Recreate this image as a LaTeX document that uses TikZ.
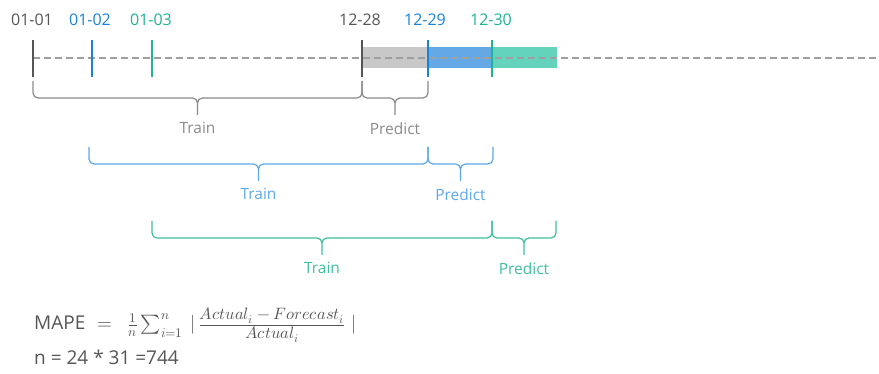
\documentclass[tikz,border=0pt]{standalone}
\usepackage{amsmath}
\usepackage{fontspec}
\usepackage{unicode-math}
\setmainfont{Open Sans}
\setmathfont{Latin Modern Math}
\usetikzlibrary{calc}

\definecolor{daygray}{HTML}{555555}
\definecolor{dayblue}{HTML}{1A82D8}
\definecolor{daygreen}{HTML}{1DB393}
\definecolor{bargray}{HTML}{C8C8C8}
\definecolor{barblue}{HTML}{64A9E6}
\definecolor{bargreen}{HTML}{64D3BC}
\definecolor{bracegray}{HTML}{8A8A8A}
\definecolor{braceblue}{HTML}{5DA8E8}
\definecolor{bracegreen}{HTML}{3FBE9E}

\tikzset{
  daylabel/.style={font=\fontsize{16}{18}\selectfont, inner sep=1pt},
  daytick/.style={line width=2pt},
  spanlabel/.style={font=\fontsize{15.5}{17}\selectfont, inner sep=2pt, anchor=north, yshift=-5pt},
  mapetext/.style={font=\fontsize{19}{21}\selectfont, anchor=base west, inner sep=0pt},
}

% curly brace below a span, from #2 to #3, label #4 named #5
\newcommand{\spanbrace}[5]{%
  \draw[#1, line width=1.2pt] let \p1=(#2), \p2=(#3), \n1={0.5*\x1+0.5*\x2} in
    (\p1) -- (\x1,\y1-12pt) to[out=-90,in=180] (\x1+5pt,\y1-17pt)
    -- (\n1-5pt,\y1-17pt) to[out=0,in=90] (\n1,\y1-22pt) -- (\n1,\y1-34pt)
       node[spanlabel, text=#1, name=#5] {#4}
    (\n1,\y1-22pt) to[out=90,in=180] (\n1+5pt,\y1-17pt)
    -- (\x2-5pt,\y1-17pt) to[out=0,in=-90] (\x2,\y1-12pt) -- (\p2);%
}
% fraction parts of the metric, a bit larger than script size
\newcommand{\mapepart}[1]{\hbox{\fontsize{16.5}{18}\selectfont$#1$}}

\begin{document}
\begin{tikzpicture}[x=1pt,y=-1pt]
\useasboundingbox (0,0) rectangle (879,374);

% timeline days
\coordinate (d0101) at (33,58);
\coordinate (d0102) at (92,58);
\coordinate (d0103) at (152,58);
\coordinate (d1228) at (362,58);
\coordinate (d1229) at (428,58);
\coordinate (d1230) at (492,58);
\coordinate (d1231) at (557,58);
\coordinate (lineend) at (879,58);

% predicted days
\fill[bargray]  ($(d1228)+(0,-11)$) rectangle ($(d1229)+(0,10)$);
\fill[barblue]  ($(d1229)+(0,-11)$) rectangle ($(d1230)+(0,10)$);
\fill[bargreen] ($(d1230)+(0,-11)$) rectangle ($(d1231)+(0,10)$);

\draw[gray!75, line width=1.3pt, dash pattern=on 7pt off 4pt] (d0101) -- (lineend);

\draw[daytick, daygray]  ($(d0101)+(0,-18)$) -- ($(d0101)+(0,19)$);
\draw[daytick, dayblue]  ($(d0102)+(0,-18)$) -- ($(d0102)+(0,19)$);
\draw[daytick, daygreen] ($(d0103)+(0,-18)$) -- ($(d0103)+(0,19)$);
\draw[daytick, daygray]  ($(d1228)+(0,-18)$) -- ($(d1228)+(0,19)$);
\draw[daytick, dayblue]  ($(d1229)+(0,-18)$) -- ($(d1229)+(0,19)$);
\draw[daytick, daygreen] ($(d1230)+(0,-18)$) -- ($(d1230)+(0,19)$);

\node[daylabel, text=daygray]  (l0101) at (32,20)  {01-01};
\node[daylabel, text=dayblue]  (l0102) at (90,20)  {01-02};
\node[daylabel, text=daygreen] (l0103) at (151,20) {01-03};
\node[daylabel, text=daygray]  (l1228) at (360,20) {12-28};
\node[daylabel, text=dayblue]  (l1229) at (425,20) {12-29};
\node[daylabel, text=daygreen] (l1230) at (491,20) {12-30};

% train / predict spans
\coordinate (g1) at (33,81);
\coordinate (g2) at (362,81);
\coordinate (g3) at (428,81);
\coordinate (b1) at (89,147);
\coordinate (b2) at (428,147);
\coordinate (b3) at (493,147);
\coordinate (e1) at (152,221);
\coordinate (e2) at (492,221);
\coordinate (e3) at (556,221);

\spanbrace{bracegray}{g1}{g2}{Train}{gtrain}
\spanbrace{bracegray}{g2}{g3}{Predict}{gpredict}
\spanbrace{braceblue}{b1}{b2}{Train}{btrain}
\spanbrace{braceblue}{b2}{b3}{Predict}{bpredict}
\spanbrace{bracegreen}{e1}{e2}{Train}{etrain}
\spanbrace{bracegreen}{e2}{e3}{Predict}{epredict}

% metric
\node[mapetext, text=daygray] (mape) at (34,330)
  {MAPE\hspace{12pt}$=\hspace{10pt}\frac{1}{n}\sum_{i=1}^{n}\hspace{4pt} |\, \frac{\mapepart{Actual_i - Forecast_i}}{\mapepart{Actual_i}}\hspace{6pt}|$};
\node[mapetext, text=daygray] (count) at (34,364) {n = 24 * 31 =744};
\end{tikzpicture}
\end{document}
